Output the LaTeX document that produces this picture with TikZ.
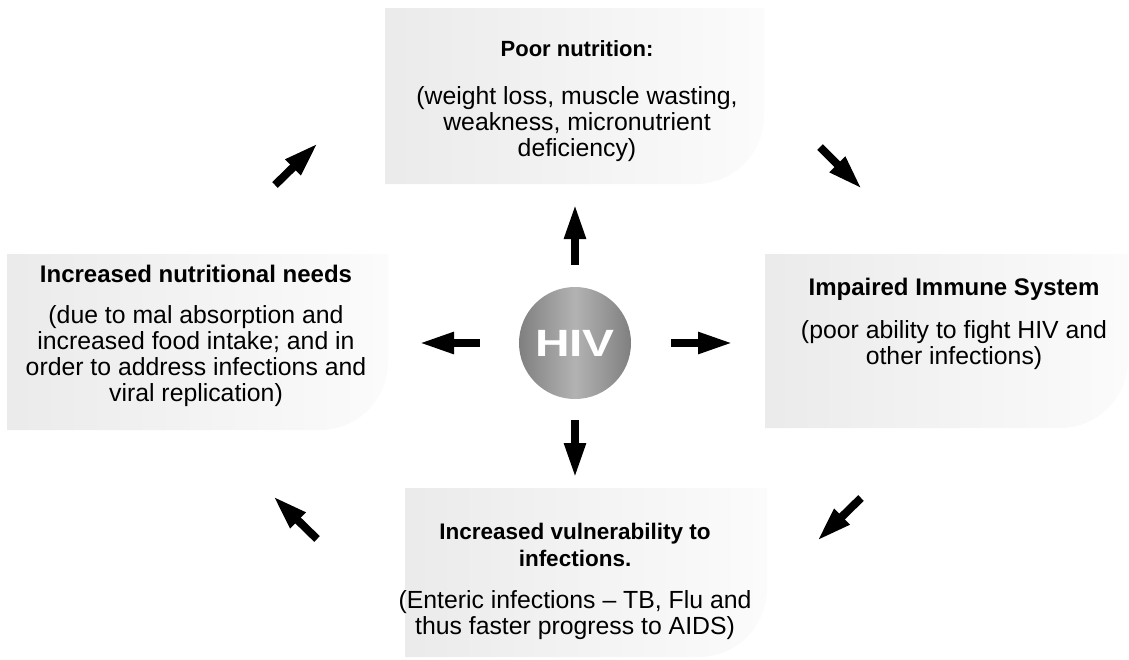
\documentclass[tikz,border=0pt]{standalone}
\usepackage{fontspec}
\setmainfont{Liberation Sans}
\usetikzlibrary{arrows.meta}

\begin{document}
\begin{tikzpicture}[x=1pt,y=-1pt,
  panel/.style={inner sep=0pt, outer sep=0pt, minimum width=#1},
  panelfill/.style={left color=black!8, right color=black!1.5},
  heading/.style={font=\bfseries\fontsize{#1}{27}\selectfont, align=center, inner sep=0pt},
  detail/.style={font=\fontsize{24.8}{26}\selectfont, align=center, inner sep=0pt, anchor=north},
  blockarrow/.style={line width=8pt, -{Triangle[length=35pt,width=20pt]}},
]
\useasboundingbox (0,0) rectangle (1129,659);

% panels: rectangles with one large rounded corner at the lower right
\newcommand{\panelshape}[1]{%
  \shade[panelfill] (#1.north west) -- (#1.north east)
    -- ([yshift=68pt]#1.south east)
    arc[start angle=0, end angle=-90, radius=68pt]
    -- (#1.south west) -- cycle;}

\node[panel=379pt, minimum height=176pt] (top)    at (574.5,96) {};
\node[panel=381pt, minimum height=176pt] (left)   at (197.5,342) {};
\node[panel=363pt, minimum height=174pt] (right)  at (946.5,341) {};
\node[panel=362pt, minimum height=169pt] (bottom) at (586,572.5) {};
\panelshape{top}
\panelshape{left}
\panelshape{right}
\panelshape{bottom}

% texts
\node[heading=22, anchor=base] (topT) at (577,56) {Poor nutrition:};
\node[detail] (topB) at (577,86)
  {(weight loss, muscle wasting,\\ weakness, micronutrient\\ deficiency)};

\node[heading=24, anchor=base] (leftT) at (196,282) {Increased nutritional needs};
\node[detail] (leftB) at (196,305.5)
  {(due to mal absorption and\\ increased food intake; and in\\ order to address infections and\\ viral replication)};

\node[heading=24, anchor=base] (rightT) at (954,295) {Impaired Immune System};
\node[detail] (rightB) at (954,320)
  {(poor ability to fight HIV and\\ other infections)};

\node[heading=22.5, anchor=north] (bottomT) at (575,523)
  {Increased vulnerability to\\ infections.};
\node[detail] (bottomB) at (575,590)
  {(Enteric infections -- TB, Flu and\\ thus faster progress to AIDS)};

% central virus disc
\node[circle, minimum size=112pt, inner sep=0pt,
      left color=black!50, right color=black!50, middle color=black!30,
      text=white, font=\bfseries\fontsize{38}{38}\selectfont] (hiv) at (575,343)
  {\scalebox{1.26}[1]{HIV}};

% arrow end points
\coordinate (upA) at (575,265);  \coordinate (upB) at (575,204);
\coordinate (dnA) at (575,420);  \coordinate (dnB) at (575,478);
\coordinate (lfA) at (480,343);  \coordinate (lfB) at (419,343);
\coordinate (rtA) at (671,343);  \coordinate (rtB) at (733,343);
\coordinate (tlA) at (275,185);  \coordinate (tlB) at (318,143);
\coordinate (trA) at (820,147);  \coordinate (trB) at (862,189);
\coordinate (brA) at (861,498);  \coordinate (brB) at (817,541);
\coordinate (blA) at (317,539);  \coordinate (blB) at (273,496);

\draw[blockarrow] (upA) -- (upB);
\draw[blockarrow] (dnA) -- (dnB);
\draw[blockarrow] (lfA) -- (lfB);
\draw[blockarrow] (rtA) -- (rtB);
\draw[blockarrow] (tlA) -- (tlB);
\draw[blockarrow] (trA) -- (trB);
\draw[blockarrow] (brA) -- (brB);
\draw[blockarrow] (blA) -- (blB);
\end{tikzpicture}
\end{document}
